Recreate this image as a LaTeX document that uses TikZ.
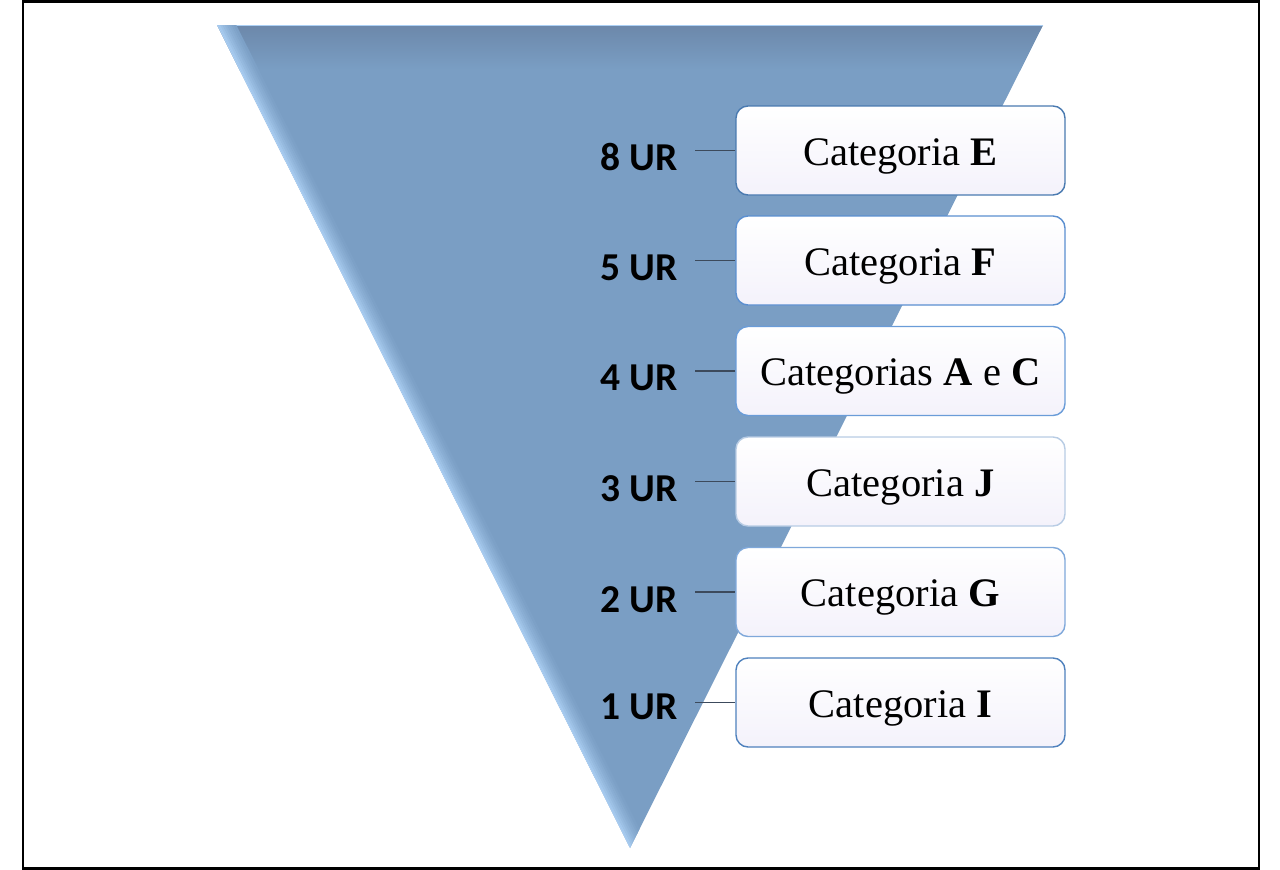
\documentclass[tikz,border=0pt]{standalone}
\usepackage{fontspec}
\setmainfont{Liberation Serif}
\newfontfamily\labfont{Carlito}
\definecolor{tri}{RGB}{122,158,196}
\definecolor{tridark}{RGB}{108,136,170}
\definecolor{trilight}{RGB}{172,208,244}
\definecolor{conncol}{RGB}{60,74,92}
\definecolor{boxbot}{RGB}{244,242,251}
\definecolor{bA}{RGB}{74,122,176}
\definecolor{bB}{RGB}{91,143,208}
\definecolor{bC}{RGB}{106,156,216}
\definecolor{bD}{RGB}{184,204,228}
\definecolor{bE}{RGB}{127,168,218}
\definecolor{bF}{RGB}{79,129,189}
\tikzset{
  catbox/.style={draw, line width=1.4pt, rounded corners=12pt, top color=white, bottom color=boxbot,
    minimum width=329pt, minimum height=89pt, inner sep=0pt, text height=29pt, text depth=0pt,
    font=\fontsize{40.5}{48}\selectfont},
  urlabel/.style={anchor=east, inner sep=0pt, font=\labfont\bfseries\fontsize{39.5}{46}\selectfont},
  conn/.style={draw=conncol, line width=1.3pt}
}
\begin{document}
\begin{tikzpicture}[x=1pt,y=-1pt]
\useasboundingbox (0,0) rectangle (1280,870);
\draw[line width=2.2pt] (23,1.5) rectangle (1259,868.5);
\coordinate (TL) at (217,25);
\coordinate (TR) at (1043,25);
\coordinate (B) at (630,848);
\fill[tri] (TL) -- (TR) -- (B) -- cycle;
\begin{scope}
  \clip (TL) -- (TR) -- (B) -- cycle;
  \shade[top color=tridark, bottom color=tri] (200,25) rectangle (1060,70);
  \draw[trilight, line width=1.5pt] (200,25.5) -- (1060,25.5);
  \foreach \k/\p in {0/100,2/85,4/70,6/56,8/44,10/33,12/23,14/14,16/6} {
    \draw[line width=2.4pt, trilight!\p!tri]
      ([shift={(0.8938*\k,-0.4485*\k)}]187,-35) -- ([shift={(0.8938*\k,-0.4485*\k)}]660,908);
  }
\end{scope}
% boxes
\node[catbox, draw=bA] (c1) at (900.5,150.5) {Categoria \textbf{E}};
\node[catbox, draw=bB] (c2) at (900.5,260.5) {Categoria \textbf{F}};
\node[catbox, draw=bC] (c3) at (900.5,371) {Categorias \textbf{A} e \textbf{C}};
\node[catbox, draw=bD] (c4) at (900.5,481.5) {Categoria \textbf{J}};
\node[catbox, draw=bE] (c5) at (900.5,592) {Categoria \textbf{G}};
\node[catbox, draw=bF] (c6) at (900.5,702.5) {Categoria \textbf{I}};
% labels
\node[urlabel] (u1) at (678,157.5) {8 UR};
\node[urlabel] (u2) at (678,267.5) {5 UR};
\node[urlabel] (u3) at (678,377.5) {4 UR};
\node[urlabel] (u4) at (678,488.5) {3 UR};
\node[urlabel] (u5) at (678,599.5) {2 UR};
\node[urlabel] (u6) at (678,706.5) {1 UR};
% connectors
\foreach \i in {1,...,6} {
  \draw[conn] ([xshift=17pt]u\i.east |- c\i.west) -- (c\i.west);
}
\end{tikzpicture}
\end{document}
